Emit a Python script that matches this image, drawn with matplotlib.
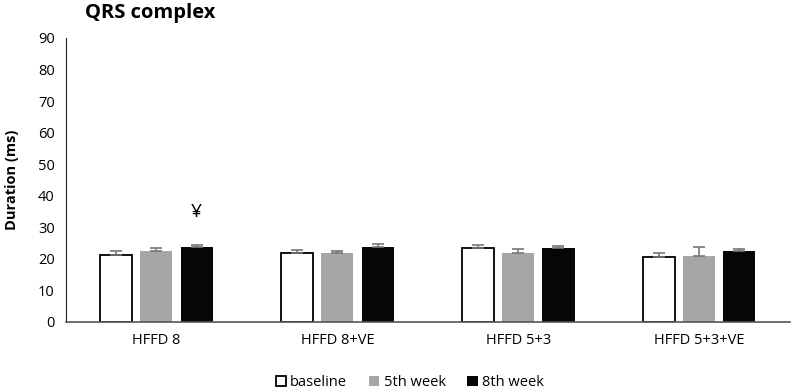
import numpy as np
import matplotlib
matplotlib.use("Agg")
import matplotlib.pyplot as plt

plt.rcParams['font.family'] = ['Open Sans', 'DejaVu Sans']

groups = ['HFFD 8', 'HFFD 8+VE', 'HFFD 5+3', 'HFFD 5+3+VE']
series = ['baseline', '5th week', '8th week']
baseline = [21.2, 22.0, 23.6, 20.7]
week5 = [22.5, 21.8, 21.8, 20.9]
week8 = [23.7, 23.8, 23.4, 22.5]
baseline_err = [1.2, 0.7, 0.9, 1.1]
week5_err = [1.0, 0.8, 1.3, 3.0]
week8_err = [0.7, 0.9, 0.8, 0.7]

fig = plt.figure(figsize=(7.91, 3.90), dpi=100)
ax = fig.add_axes([0.0834, 0.1744, 0.915, 0.7282])

x = np.arange(len(groups))
w = 0.177
step = 0.222
ekw = dict(ecolor='#777777', elinewidth=1.2, capsize=4.5, capthick=1.2)

ax.bar(x - step, baseline, w, color='white', edgecolor='black', linewidth=1.3,
       label=series[0], yerr=[np.zeros(4), baseline_err], error_kw=ekw)
ax.bar(x, week5, w, color='#a6a6a6', label=series[1],
       yerr=[np.zeros(4), week5_err], error_kw=ekw)
ax.bar(x + step, week8, w, color='#060606', label=series[2],
       yerr=[np.zeros(4), week8_err], error_kw=ekw)

# significance mark
ax.text(x[0] + step, 34.8, '¥', ha='center', va='center', fontsize=14)

ax.set_xlim(-0.5, 3.5)
ax.set_ylim(0, 90)
ax.set_yticks(range(0, 91, 10))
ax.set_xticks(x)
ax.set_xticklabels(groups, fontsize=10.5)
ax.tick_params(axis='y', labelsize=10.5, length=0, pad=8)
ax.tick_params(axis='x', length=0, pad=8)
for s in ['top', 'right']:
    ax.spines[s].set_visible(False)
ax.spines['left'].set_color('#222222')
ax.spines['bottom'].set_color('#555555')
ax.spines['bottom'].set_linewidth(1.2)

ax.set_ylabel('Duration (ms)', fontsize=10.5, fontweight='bold', labelpad=14)
fig.text(0.107, 0.966, 'QRS complex', fontsize=14.5, fontweight='bold', va='center')

ax.legend(loc='upper center', bbox_to_anchor=(0.475, -0.14), ncol=3, frameon=False,
          fontsize=10.5, handlelength=0.7, handleheight=0.7, handletextpad=0.3,
          columnspacing=1.5)

fig.savefig('out.png', dpi=100)
